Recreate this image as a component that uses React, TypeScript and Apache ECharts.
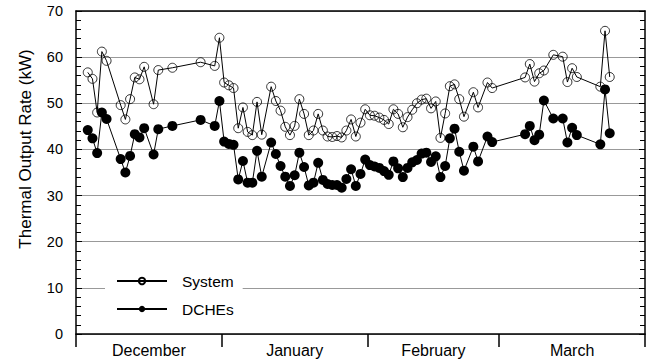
import React, { useEffect, useRef } from 'react';
import * as echarts from 'echarts';

// Month layout of the x axis (day counts per month, starting 1 December)
const months = ['December', 'January', 'February', 'March'];
const monthDays = [31, 31, 28, 31];

// Days since 1 December for each measured day
const dayIndex = [
  2, 3, 4, 5, 6, 9, 10, 11, 12, 13, 14, 16, 17, 20, 26, 29, 30,
  31, 32, 33, 34, 35, 36, 37, 38, 39, 41, 42, 43, 44, 45, 46, 47, 48, 49, 50,
  51, 52, 53, 54, 55, 56, 57, 58, 59, 60, 61, 62, 63, 64, 65, 66, 67, 68, 69, 70,
  71, 72, 73, 74, 75, 76, 77, 78, 79, 80, 81, 82, 84, 85, 87, 88,
  95, 96, 97, 98, 99, 101, 103, 104, 105, 106, 111, 112, 113,
];

// Thermal output rate of the whole system (kW)
const systemRate = [
  56.7, 55.3, 48.0, 61.2, 59.2, 49.6, 46.5, 50.9, 55.6, 55.2, 57.9, 49.8, 57.2, 57.7, 58.9, 58.1, 64.2,
  54.5, 53.9, 53.3, 44.6, 49.1, 43.8, 43.1, 50.3, 43.2,
  53.6, 50.5, 48.4, 44.9, 43.1, 45.1, 50.9, 47.7, 43.1, 44.1,
  47.7, 44.1, 42.8, 42.7, 42.9, 42.6, 44.1, 46.5, 42.8, 45.8,
  48.7, 47.4, 47.3, 46.9, 46.4, 45.5, 48.7, 47.7, 44.8, 47.0,
  48.6, 50.0, 50.8, 51.0, 48.9, 50.4, 42.5, 47.8, 53.7, 54.1,
  50.9, 47.1, 52.4, 49.1, 54.5, 53.3,
  55.6, 58.5, 54.7, 56.5, 57.1, 60.5, 60.1, 54.6, 57.6, 55.7, 53.6, 65.7, 55.7,
];

// Thermal output rate of the DCHEs (kW)
const dcheRate = [
  44.2, 42.4, 39.2, 48.0, 46.6, 37.9, 35.0, 38.6, 43.3, 42.6, 44.6, 38.9, 44.4, 45.1, 46.4, 45.1, 50.5,
  41.7, 41.2, 41.0, 33.5, 37.5, 32.8, 32.8, 39.7, 34.1,
  41.5, 39.0, 36.4, 34.1, 32.1, 34.4, 39.3, 36.2, 32.2, 32.8,
  37.1, 33.4, 32.5, 32.3, 32.3, 31.7, 33.6, 35.7, 32.1, 34.7,
  37.8, 36.6, 36.3, 36.0, 35.3, 34.5, 37.4, 35.9, 34.0, 36.0,
  37.2, 37.7, 39.1, 39.3, 37.3, 38.5, 34.0, 36.4, 42.4, 44.5,
  39.5, 35.4, 40.6, 37.4, 42.8, 41.6,
  43.3, 45.1, 42.0, 43.2, 50.6, 46.7, 46.7, 41.5, 44.7, 43.1, 41.1, 53.0, 43.5,
];

const yMin = 0;
const yMax = 70;
const yStep = 10;
const yTitle = 'Thermal Output Rate (kW)';
const seriesNames = ['System', 'DCHEs'];

export default function App() {
  const ref = useRef<HTMLDivElement>(null);

  useEffect(() => {
    document.body.style.margin = '0';
    const chart = echarts.init(ref.current as HTMLDivElement, null, { renderer: 'svg' });
    const bounds: number[] = [0];
    monthDays.forEach((n) => bounds.push(bounds[bounds.length - 1] + n));
    const centers = months.map((_, i) => (bounds[i] + bounds[i + 1]) / 2);
    const font = '"Liberation Sans", Arial, Helvetica, sans-serif';
    const black = '#000';
    const sys = dayIndex.map((d, i) => [d + 0.5, systemRate[i]]);
    const dch = dayIndex.map((d, i) => [d + 0.5, dcheRate[i]]);
    const axisLine = { show: true, onZero: false, lineStyle: { color: black, width: 1.5 } };

    chart.setOption({
      animation: false,
      textStyle: { fontFamily: font, color: black },
      grid: { left: 76, right: 1, top: 11, bottom: 30 },
      xAxis: [
        {
          type: 'value',
          min: bounds[0],
          max: bounds[bounds.length - 1],
          position: 'bottom',
          axisLine,
          axisTick: { show: true, customValues: bounds, length: 13, inside: false, lineStyle: { color: black, width: 1.5 } },
          axisLabel: {
            customValues: centers,
            formatter: (v: number) => {
              let best = 0;
              centers.forEach((c, i) => { if (Math.abs(c - v) < Math.abs(centers[best] - v)) best = i; });
              return months[best];
            },
            fontSize: 16,
            fontFamily: font,
            color: black,
            margin: 8,
          },
          splitLine: { show: false },
        },
        {
          type: 'value',
          min: bounds[0],
          max: bounds[bounds.length - 1],
          position: 'top',
          axisLine,
          axisTick: { show: false },
          axisLabel: { show: false },
          splitLine: { show: false },
        },
      ],
      yAxis: [
        {
          type: 'value',
          min: yMin,
          max: yMax,
          interval: yStep,
          position: 'left',
          axisLine,
          axisTick: { show: true, inside: true, length: 6, lineStyle: { color: black, width: 1 } },
          minorTick: { show: true, splitNumber: 5, length: 5, lineStyle: { color: black, width: 1 } },
          axisLabel: { fontSize: 14.5, fontFamily: font, color: black, margin: 13 },
          splitLine: { show: true, lineStyle: { color: '#999', width: 1 } },
        },
        {
          type: 'value',
          min: yMin,
          max: yMax,
          interval: yStep,
          position: 'right',
          axisLine,
          axisTick: { show: true, inside: true, length: 6, lineStyle: { color: black, width: 1 } },
          minorTick: { show: true, splitNumber: 5, length: 5, lineStyle: { color: black, width: 1 } },
          axisLabel: { show: false },
          splitLine: { show: false },
        },
      ],
      legend: {
        left: 105,
        top: 265,
        orient: 'vertical',
        backgroundColor: '#fff',
        padding: [8, 9, 8, 11],
        itemWidth: 50,
        itemHeight: 8,
        itemGap: 12,
        textStyle: { fontSize: 15.5, fontFamily: font, color: black, padding: [0, 0, 0, 10] },
        data: seriesNames,
      },
      graphic: [
        {
          type: 'text',
          x: 25,
          y: 149,
          rotation: Math.PI / 2,
          style: {
            text: yTitle,
            fontSize: 17,
            fontFamily: font,
            fill: black,
            textAlign: 'center',
            textVerticalAlign: 'middle',
          },
        },
      ],
      series: [
        {
          name: seriesNames[0],
          type: 'line',
          data: sys,
          symbol: 'circle',
          symbolSize: 9,
          lineStyle: { color: black, width: 1 },
          itemStyle: { color: 'rgba(255,255,255,0)', borderColor: black, borderWidth: 0.8 },
          z: 3,
        },
        {
          name: seriesNames[1],
          type: 'line',
          data: dch,
          symbol: 'circle',
          symbolSize: 10,
          lineStyle: { color: black, width: 1 },
          itemStyle: { color: black, borderColor: black, borderWidth: 0 },
          z: 4,
        },
      ],
    });
    return () => chart.dispose();
  }, []);

  return (
    <div
      ref={ref}
      style={{ width: 646, height: 364, position: 'fixed', left: 0, top: 0, background: '#fff' }}
    />
  );
}
